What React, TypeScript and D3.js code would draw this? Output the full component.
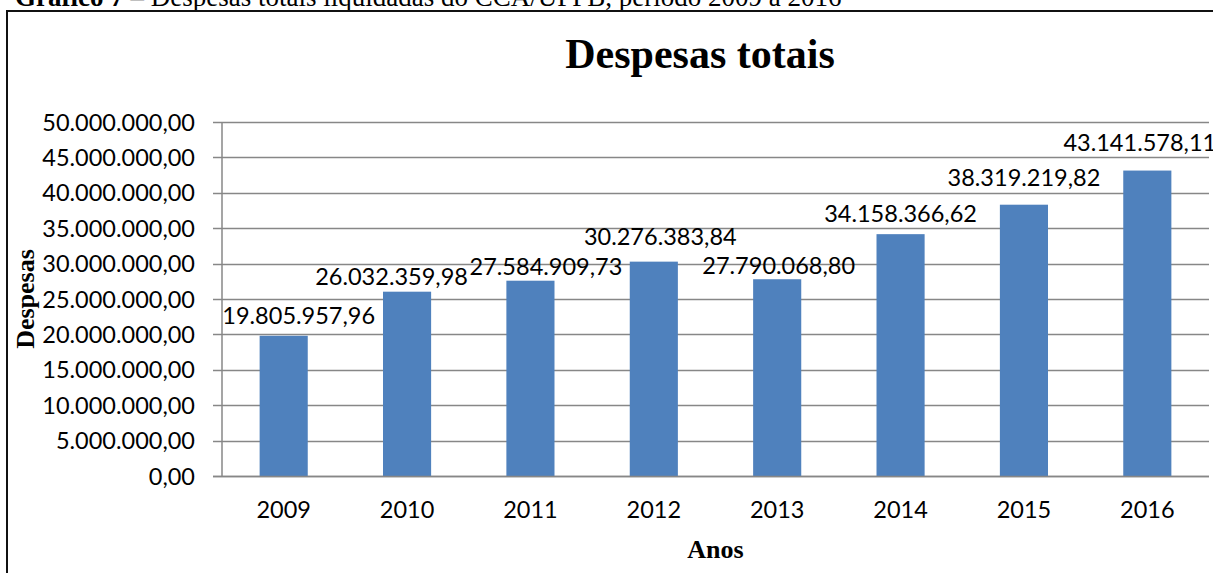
import React from "react";
import * as d3 from "d3";

const YEARS = ["2009", "2010", "2011", "2012", "2013", "2014", "2015", "2016"];
const DESPESAS = [19805957.96, 26032359.98, 27584909.73, 30276383.84, 27790068.8, 34158366.62, 38319219.82, 43141578.11];
const Y_TICKS = [0, 5e6, 10e6, 15e6, 20e6, 25e6, 30e6, 35e6, 40e6, 45e6, 50e6];
// manual label nudges (dx, dy) relative to default "outside end" placement, as in the source
const LABEL_DX = [15, -15.5, 15.5, 6.5, 1.5, 0, 0, -7.5];
const LABEL_DY = [-6, -1, 0, -11, 1, -6.5, -12.5, -14];

const W = 1213;
const H = 573;
const plot = { left: 222, right: 1209, top: 122, bottom: 476 };

const br = d3.formatLocale({ decimal: ",", thousands: ".", grouping: [3], currency: ["R$", ""] });
const fmt = br.format(",.2f");

const SANS = "Lato, 'Open Sans', sans-serif";
const SERIF = "'Liberation Serif', 'Times New Roman', serif";
const FS = 23.5;

export default function App() {
  const x = d3.scaleBand<string>().domain(YEARS).range([plot.left, plot.right]).paddingInner(0.61).paddingOuter(0.305);
  const y = d3.scaleLinear().domain([0, 50e6]).range([plot.bottom, plot.top]);
  const grid = "#878787";
  return (
    <svg width={W} height={H} style={{ position: "absolute", left: 0, top: 0, background: "#fff" }}>
      <rect x={0} y={0} width={W} height={H} fill="#fff" />
      {/* document caption, cut at the top */}
      <text x={15} y={5.5} fontFamily={SERIF} fontSize={27} fill="#000">
        <tspan fontWeight="bold">Gráfico 7</tspan>
        <tspan> – Despesas totais liquidadas do CCA/UFPB, período 2009 a 2016</tspan>
      </text>
      {/* frame */}
      <line x1={6} x2={W} y1={11} y2={11} stroke="#111" strokeWidth={2} />
      <line x1={7} x2={7} y1={10} y2={H} stroke="#111" strokeWidth={2} />

      {/* title */}
      <text x={700} y={68} textAnchor="middle" fontFamily={SERIF} fontWeight="bold" fontSize={42} fill="#000">
        Despesas totais
      </text>

      {/* gridlines & y ticks */}
      {Y_TICKS.map((t) => (
        <g key={t}>
          <line x1={plot.left - 9} x2={plot.right} y1={Math.round(y(t)) + 0.5} y2={Math.round(y(t)) + 0.5} stroke={grid} strokeWidth={1.5} />
          <text x={195} y={y(t) + 8.5} textAnchor="end" fontFamily={SANS} fontSize={FS} fill="#000">
            {fmt(t)}
          </text>
        </g>
      ))}
      <line x1={plot.left} x2={plot.left} y1={plot.top} y2={plot.bottom} stroke={grid} strokeWidth={1.5} />

      {/* bars */}
      {YEARS.map((yr, i) => (
        <rect key={yr} x={x(yr)} y={y(DESPESAS[i])} width={x.bandwidth()} height={plot.bottom - y(DESPESAS[i])} fill="#4F81BD" />
      ))}
      <line x1={plot.left - 9} x2={plot.right} y1={plot.bottom + 0.5} y2={plot.bottom + 0.5} stroke={grid} strokeWidth={1.5} />

      {/* data labels */}
      {YEARS.map((yr, i) => (
        <text
          key={"l" + yr}
          x={(x(yr) as number) + x.bandwidth() / 2 + LABEL_DX[i]}
          y={y(DESPESAS[i]) - 6 + LABEL_DY[i]}
          textAnchor="middle"
          fontFamily={SANS}
          fontSize={FS}
          fill="#000"
        >
          {fmt(DESPESAS[i])}
        </text>
      ))}

      {/* x labels */}
      {YEARS.map((yr) => (
        <text key={"x" + yr} x={(x(yr) as number) + x.bandwidth() / 2} y={518} textAnchor="middle" fontFamily={SANS} fontSize={FS} fill="#000">
          {yr}
        </text>
      ))}

      {/* axis titles */}
      <text x={(plot.left + plot.right) / 2} y={558} textAnchor="middle" fontFamily={SERIF} fontWeight="bold" fontSize={26} fill="#000">
        Anos
      </text>
      <text transform={`translate(34, ${(plot.top + plot.bottom) / 2}) rotate(-90)`} textAnchor="middle" fontFamily={SERIF} fontWeight="bold" fontSize={26} fill="#000">
        Despesas
      </text>
    </svg>
  );
}
